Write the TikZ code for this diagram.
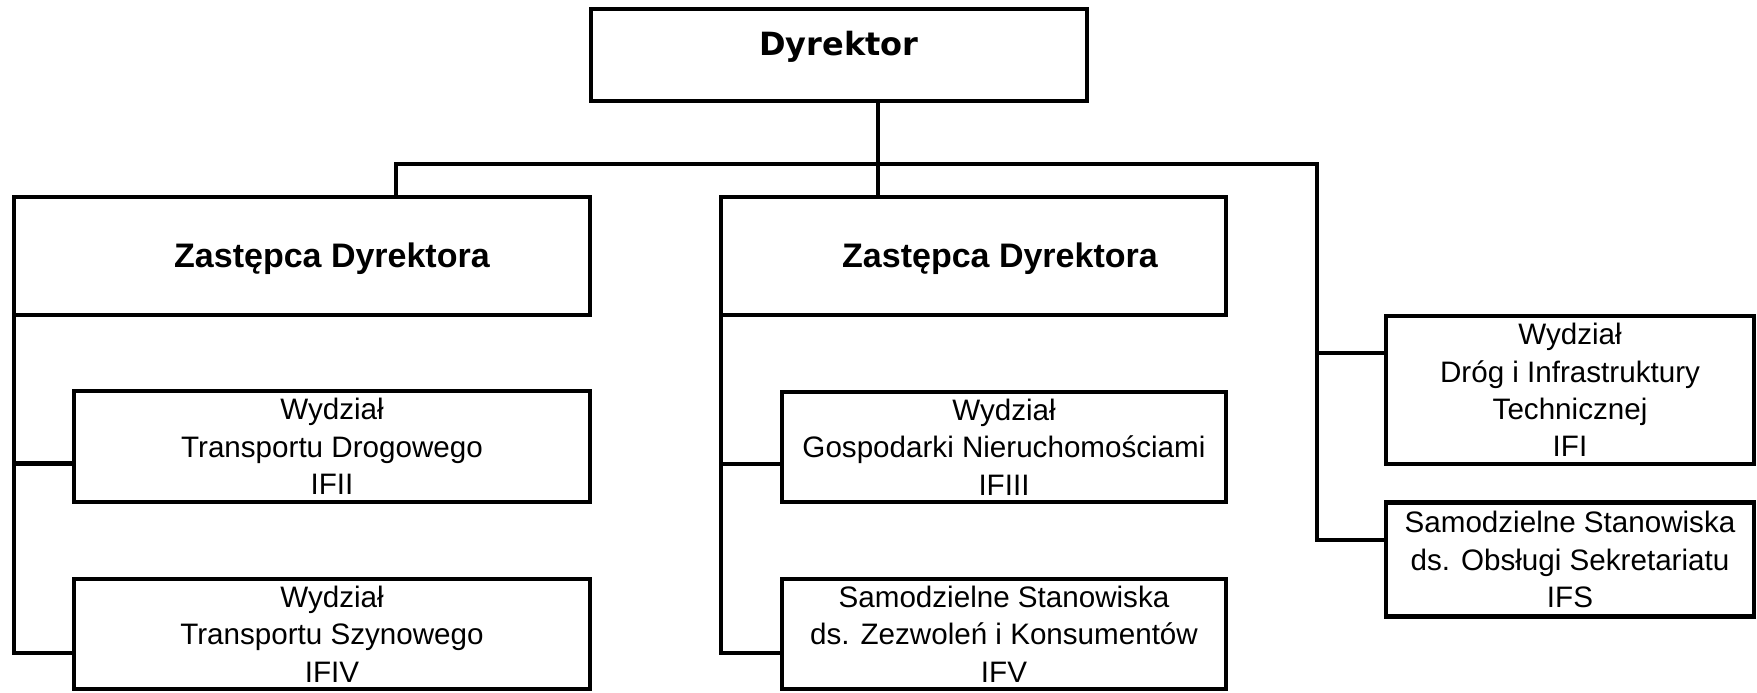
\documentclass[tikz,border=0pt]{standalone}
\usepackage{fontspec}
\setmainfont{Liberation Sans}
\newfontfamily\dvfont{DejaVu Sans}
\begin{document}
\begin{tikzpicture}[x=0.5pt,y=-0.5pt, line width=2.35pt, line join=miter,
  box/.style={draw, rectangle, inner sep=0pt, outer sep=0pt, align=center,
    font=\fontsize{14.8}{18.7}\selectfont},
  ztext/.style={anchor=base, inner sep=0pt, font=\bfseries\fontsize{17}{20}\selectfont},
  dtext/.style={anchor=base, inner sep=0pt, font=\dvfont\bfseries\fontsize{16}{19}\selectfont}
]
\useasboundingbox (0,0) rectangle (1757,692);

% boxes
\node[box, minimum width=248pt, minimum height=46pt] (dyr) at (839,55) {};
\node[dtext] (dyrt) at (839,55) {Dyrektor};

\node[box, minimum width=288pt, minimum height=59pt] (z1) at (302,256) {};
\node[ztext] (z1t) at (332,267) {Zastępca Dyrektora};

\node[box, minimum width=252.5pt, minimum height=59pt] (z2) at (973.5,256) {};
\node[ztext] (z2t) at (1000,267) {Zastępca Dyrektora};

\node[box, minimum width=258pt, minimum height=55.5pt] (ifii) at (332,446.5)
  {Wydział\\Transportu Drogowego\\IFII};
\node[box, minimum width=258pt, minimum height=55pt] (ifiv) at (332,634)
  {Wydział\\Transportu Szynowego\\IFIV};
\node[box, minimum width=222pt, minimum height=55pt] (ifiii) at (1004,447)
  {Wydział\\Gospodarki Nieruchomościami\\IFIII};
\node[box, minimum width=222pt, minimum height=55pt] (ifv) at (1004,634)
  {Samodzielne Stanowiska\\ds. Zezwoleń i Konsumentów\\IFV};
\node[box, minimum width=184pt, minimum height=74pt] (ifi) at (1570,390)
  {Wydział\\Dróg i Infrastruktury\\Technicznej\\IFI};
\node[box, minimum width=184pt, minimum height=57pt] (ifs) at (1570,559.5)
  {Samodzielne Stanowiska\\ds. Obsługi Sekretariatu\\IFS};

% junctions
\coordinate (jl) at (396,164);
\coordinate (jm) at (878,164);
\coordinate (jr) at (1317,164);
\coordinate (c2) at ([yshift=-8.5pt]ifii.west);
\coordinate (c4) at ([yshift=-9.5pt]ifiv.west);
\coordinate (c3) at ([yshift=-8.5pt]ifiii.west);
\coordinate (c5) at ([yshift=-9.5pt]ifv.west);
\coordinate (cI) at ([yshift=18.5pt]ifi.west);
\coordinate (cS) at ([yshift=9.75pt]ifs.west);

% connectors
\draw (dyr.south -| jm) -- (z2.north -| jm);
\draw (z1.north -| jl) -- (jl) -- (jr) |- (cS);
\draw (jr |- cI) -- (cI);
\draw (z1.south west) |- (c4);
\draw (z1.south west |- c2) -- (c2);
\draw (z2.south west) |- (c5);
\draw (z2.south west |- c3) -- (c3);
\end{tikzpicture}
\end{document}
